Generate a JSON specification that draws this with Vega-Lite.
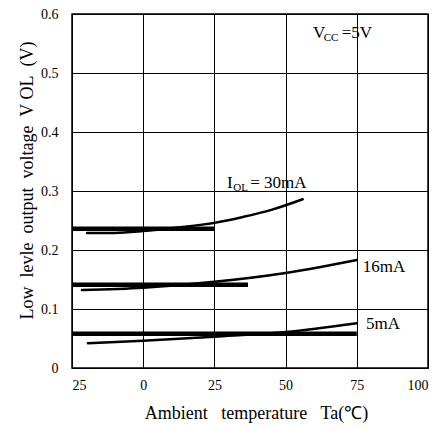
{
  "$schema": "https://vega.github.io/schema/vega-lite/v6.json",
  "width": 356,
  "height": 354,
  "autosize": "none",
  "padding": {"left": 72, "top": 14, "right": 13, "bottom": 59},
  "background": "white",
  "config": {
    "font": "Liberation Serif",
    "view": {"stroke": "black", "strokeWidth": 1.5},
    "axis": {
      "domain": false, "ticks": false,
      "grid": true, "gridColor": "black", "gridOpacity": 1, "gridWidth": 1,
      "labelFont": "Liberation Serif", "labelFontSize": 14, "labelColor": "black",
      "titleFont": "Liberation Serif", "titleFontSize": 18, "titleFontWeight": "normal", "titleColor": "black"
    }
  },
  "datasets": {
    "lines": [
      {"T": -19.7, "V": 0.229, "s": "30c", "kind": "curve"},
      {"T": -10, "V": 0.229, "s": "30c", "kind": "curve"},
      {"T": 0, "V": 0.232, "s": "30c", "kind": "curve"},
      {"T": 12, "V": 0.238, "s": "30c", "kind": "curve"},
      {"T": 25, "V": 0.246, "s": "30c", "kind": "curve"},
      {"T": 35, "V": 0.256, "s": "30c", "kind": "curve"},
      {"T": 45, "V": 0.268, "s": "30c", "kind": "curve"},
      {"T": 56, "V": 0.286, "s": "30c", "kind": "curve"},
      {"T": -25, "V": 0.236, "s": "30t", "kind": "thick"},
      {"T": 25, "V": 0.236, "s": "30t", "kind": "thick"},
      {"T": -21.5, "V": 0.132, "s": "16c", "kind": "curve"},
      {"T": 0, "V": 0.136, "s": "16c", "kind": "curve"},
      {"T": 25, "V": 0.146, "s": "16c", "kind": "curve"},
      {"T": 50, "V": 0.161, "s": "16c", "kind": "curve"},
      {"T": 75, "V": 0.183, "s": "16c", "kind": "curve"},
      {"T": -25, "V": 0.141, "s": "16t", "kind": "thick"},
      {"T": 36.8, "V": 0.141, "s": "16t", "kind": "thick"},
      {"T": -19.4, "V": 0.042, "s": "5c", "kind": "curve"},
      {"T": 0, "V": 0.046, "s": "5c", "kind": "curve"},
      {"T": 25, "V": 0.053, "s": "5c", "kind": "curve"},
      {"T": 50, "V": 0.061, "s": "5c", "kind": "curve"},
      {"T": 75, "V": 0.076, "s": "5c", "kind": "curve"},
      {"T": -25, "V": 0.058, "s": "5t", "kind": "thick"},
      {"T": 75, "V": 0.058, "s": "5t", "kind": "thick"}
    ],
    "labels": [
      {"T": 29.4, "V": 0.305, "text": "I", "kind": "main"},
      {"T": 31.6, "V": 0.300, "text": "OL", "kind": "sub"},
      {"T": 37.6, "V": 0.305, "text": "= 30mA", "kind": "main"},
      {"T": 77.1, "V": 0.163, "text": "16mA", "kind": "main"},
      {"T": 78.2, "V": 0.066, "text": "5mA", "kind": "main"},
      {"T": 59.6, "V": 0.559, "text": "V", "kind": "main"},
      {"T": 63.4, "V": 0.555, "text": "CC", "kind": "sub"},
      {"T": 69.7, "V": 0.559, "text": "=5V", "kind": "main"}
    ]
  },
  "encoding": {
    "x": {
      "field": "T", "type": "quantitative",
      "scale": {"domain": [-25, 100], "nice": false, "zero": false},
      "axis": {"values": [-25, 0, 25, 50, 75, 100], "labelFlush": true, "labelPadding": 10, "titlePadding": 12,
               "labelExpr": "datum.value < 0 ? format(-datum.value, 'd') : datum.label",
               "title": "Ambient\u00a0\u00a0 temperature\u00a0\u00a0 Ta(℃)", "titleX": 184}
    },
    "y": {
      "field": "V", "type": "quantitative",
      "scale": {"domain": [0, 0.6], "nice": false},
      "axis": {"values": [0, 0.1, 0.2, 0.3, 0.4, 0.5, 0.6], "labelPadding": 14, "titlePadding": 4, "titleY": 166,
               "labelExpr": "datum.value == 0 ? '0' : format(datum.value, '.1f')",
               "title": "Low\u00a0 levle\u00a0 output\u00a0 voltage\u00a0 V OL\u00a0 (V)"}
    }
  },
  "layer": [
    {
      "data": {"name": "lines"},
      "transform": [{"filter": "datum.kind == 'thick'"}],
      "mark": {"type": "line", "color": "black", "strokeWidth": 4.5, "strokeCap": "butt"},
      "encoding": {"detail": {"field": "s"}}
    },
    {
      "data": {"name": "lines"},
      "transform": [{"filter": "datum.kind == 'curve'"}],
      "mark": {"type": "line", "color": "black", "strokeWidth": 2.5, "interpolate": "monotone", "strokeCap": "round"},
      "encoding": {"detail": {"field": "s"}}
    },
    {
      "data": {"name": "labels"},
      "transform": [{"filter": "datum.kind == 'main'"}],
      "mark": {"type": "text", "align": "left", "baseline": "alphabetic", "fontSize": 17, "font": "Liberation Serif", "color": "black"},
      "encoding": {"text": {"field": "text"}}
    },
    {
      "data": {"name": "labels"},
      "transform": [{"filter": "datum.kind == 'sub'"}],
      "mark": {"type": "text", "align": "left", "baseline": "alphabetic", "fontSize": 11, "font": "Liberation Serif", "color": "black"},
      "encoding": {"text": {"field": "text"}}
    }
  ]
}
